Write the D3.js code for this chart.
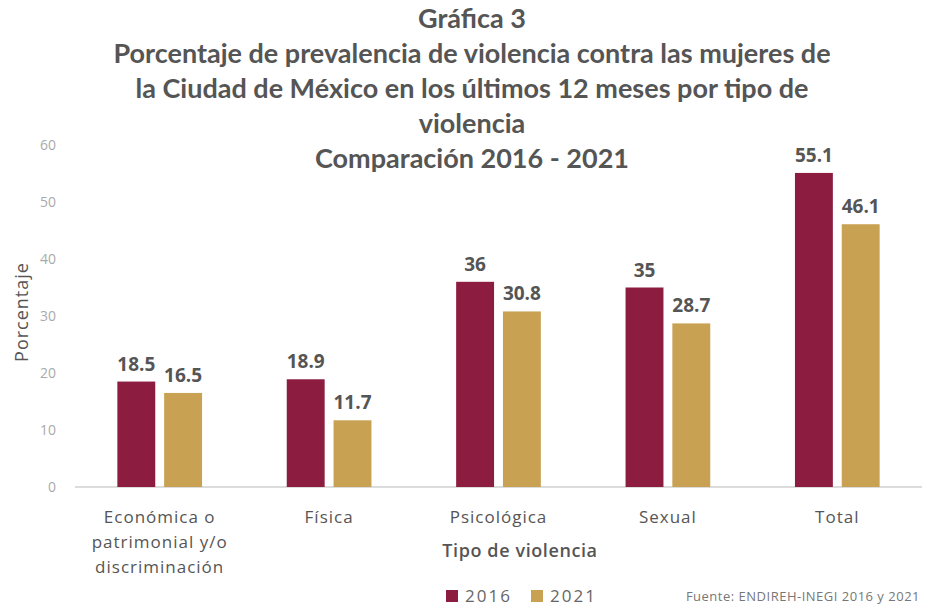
<!DOCTYPE html>
<html lang="es">
  <head>
    <meta charset="UTF-8" />
    <title>Gráfica 3</title>
    <script src="https://d3js.org/d3.v7.min.js"></script>
    <style>
      body {
        margin: 0;
        background: #fff;
        font-family: "Open Sans", sans-serif;
      }
    </style>
  </head>
  <body>
    <svg id="chart" width="930" height="609"></svg>
    <script>
      const categories = [
        ["Económica o", "patrimonial y/o", "discriminación"],
        ["Física"],
        ["Psicológica"],
        ["Sexual"],
        ["Total"],
      ];
      const years = ["2016", "2021"];
      const values2016 = [18.5, 18.9, 36, 35, 55.1];
      const values2021 = [16.5, 11.7, 30.8, 28.7, 46.1];
      const yTicks = [0, 10, 20, 30, 40, 50, 60];
      const titleLines = [
        "Gráfica 3",
        "Porcentaje de prevalencia de violencia contra las mujeres de",
        "la Ciudad de México en los últimos 12 meses por tipo de",
        "violencia",
        "Comparación 2016 - 2021",
      ];

      const colors = { 2016: "#8c1d40", 2021: "#c9a152" };

      const svg = d3.select("#chart");
      const margin = { top: 145, right: 8, bottom: 122, left: 75 };
      const width = 930 - margin.left - margin.right;
      const height = 609 - margin.top - margin.bottom;

      const g = svg
        .append("g")
        .attr("transform", `translate(${margin.left},${margin.top})`);

      const keys = categories.map((c) => c.join(" "));
      const rows = keys.map((k, i) => ({
        key: k,
        lines: categories[i],
        vals: [values2016[i], values2021[i]],
      }));

      const x0 = d3
        .scaleBand()
        .domain(keys)
        .range([0, width])
        .paddingInner(0.5)
        .paddingOuter(0.25);
      const x1 = d3
        .scaleBand()
        .domain(years)
        .range([0, x0.bandwidth()])
        .paddingInner(0.19);
      const y = d3.scaleLinear().domain([0, 60]).range([height, 0]);

      // title
      svg
        .append("g")
        .selectAll("text")
        .data(titleLines)
        .join("text")
        .attr("x", 472)
        .attr("y", (d, i) => 28 + i * 35)
        .attr("text-anchor", "middle")
        .attr("font-family", "Lato, sans-serif")
        .attr("font-weight", "bold")
        .attr("font-size", 27)
        .attr("fill", "#555")
        .text((d) => d);

      // y axis
      const yAxis = g
        .append("g")
        .call(d3.axisLeft(y).tickValues(yTicks).tickSize(0).tickPadding(19));
      yAxis.select(".domain").remove();
      yAxis
        .selectAll("text")
        .attr("font-family", "Open Sans, sans-serif")
        .attr("font-size", 14)
        .attr("fill", "#aaa");

      // baseline
      g.append("line")
        .attr("x1", 0)
        .attr("x2", width)
        .attr("y1", y(0))
        .attr("y2", y(0))
        .attr("stroke", "#d0d0d0")
        .attr("stroke-width", 1.5);

      // bars
      const groups = g
        .selectAll(".grp")
        .data(rows)
        .join("g")
        .attr("class", "grp")
        .attr("transform", (d) => `translate(${x0(d.key)},0)`);

      groups
        .selectAll("rect")
        .data((d) => d.vals.map((v, j) => ({ year: years[j], v })))
        .join("rect")
        .attr("x", (d) => x1(d.year))
        .attr("y", (d) => y(d.v))
        .attr("width", x1.bandwidth())
        .attr("height", (d) => y(0) - y(d.v))
        .attr("fill", (d) => colors[d.year]);

      groups
        .selectAll(".val")
        .data((d) => d.vals.map((v, j) => ({ year: years[j], v })))
        .join("text")
        .attr("class", "val")
        .attr("x", (d) => x1(d.year) + x1.bandwidth() / 2)
        .attr("y", (d) => y(d.v) - 11)
        .attr("text-anchor", "middle")
        .attr("font-family", "Open Sans, sans-serif")
        .attr("font-weight", "bold")
        .attr("font-size", 19)
        .attr("fill", "#555")
        .text((d) => d.v);

      // category labels
      const catLabels = g
        .selectAll(".cat")
        .data(rows)
        .join("text")
        .attr("class", "cat")
        .attr("text-anchor", "middle")
        .attr("font-family", "Open Sans, sans-serif")
        .attr("font-size", 17)
        .attr("letter-spacing", 1)
        .attr("fill", "#555");
      catLabels
        .selectAll("tspan")
        .data((d) => d.lines.map((l) => ({ l, cx: x0(d.key) + x0.bandwidth() / 2 })))
        .join("tspan")
        .attr("x", (d) => d.cx)
        .attr("y", (d, i) => height + 36 + i * 25)
        .text((d) => d.l);

      // axis titles
      g.append("text")
        .attr("x", 445)
        .attr("y", height + 70)
        .attr("text-anchor", "middle")
        .attr("font-family", "Open Sans, sans-serif")
        .attr("font-weight", 600)
        .attr("font-size", 18)
        .attr("letter-spacing", 0.6)
        .attr("fill", "#555")
        .text("Tipo de violencia");

      svg
        .append("text")
        .attr("transform", "translate(28,312) rotate(-90)")
        .attr("text-anchor", "middle")
        .attr("font-family", "Open Sans, sans-serif")
        .attr("font-size", 18)
        .attr("letter-spacing", 1)
        .attr("fill", "#555")
        .text("Porcentaje");

      // legend
      const legend = svg
        .append("g")
        .selectAll("g")
        .data(years)
        .join("g")
        .attr("transform", (d, i) => `translate(${446 + i * 85},590)`);
      legend
        .append("rect")
        .attr("width", 12)
        .attr("height", 12)
        .attr("fill", (d) => colors[d]);
      legend
        .append("text")
        .attr("x", 19)
        .attr("y", 12)
        .attr("font-family", "Open Sans, sans-serif")
        .attr("font-size", 17)
        .attr("letter-spacing", 2)
        .attr("fill", "#666")
        .text((d) => d);

      svg
        .append("text")
        .attr("x", 920)
        .attr("y", 601)
        .attr("text-anchor", "end")
        .attr("font-family", "Open Sans, sans-serif")
        .attr("font-size", 13)
        .attr("letter-spacing", 0.5)
        .attr("fill", "#777")
        .text("Fuente: ENDIREH-INEGI 2016 y 2021");
    </script>
  </body>
</html>
